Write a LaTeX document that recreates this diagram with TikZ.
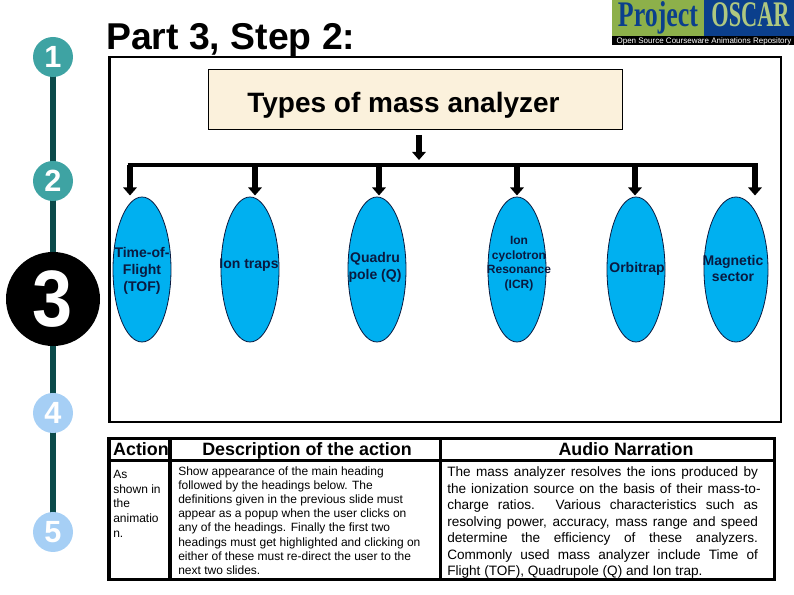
\documentclass[tikz,border=0pt]{standalone}
\usepackage{fontspec}
\setmainfont{Liberation Sans}
\newfontfamily\logofont{Liberation Serif}
\usetikzlibrary{shapes.geometric,arrows.meta}
\definecolor{stem}{HTML}{0B4A4A}
\definecolor{teal}{HTML}{3EA3A3}
\definecolor{pale}{HTML}{A6CFF5}
\definecolor{oval}{HTML}{00B0F0}
\definecolor{ovaltext}{HTML}{0A1A40}
\definecolor{beige}{HTML}{FBF1DC}
\definecolor{logogreen}{HTML}{8DB04A}
\definecolor{logoblue}{HTML}{0B3F8C}
\newcommand{\setpx}[2]{\fontsize{#1}{#2}\selectfont}
\tikzset{
  stepnum/.style={circle,minimum size=40*0.75pt,inner sep=0pt,text=white,font=\bfseries\setpx{23}{25}},
  stemline/.style={stem,line width=4.5pt},
  oval/.style={ellipse,draw=ovaltext,fill=oval,line width=0.6pt,inner sep=0pt,minimum height=145*0.75pt},
  ovaltxt/.style={align=center,text=ovaltext,font=\bfseries\setpx{10.5}{12.6},inner sep=0pt},
  fat/.style={line width=5pt,-{Triangle[length=6pt,width=10pt]}},
  rule/.style={line width=2.6pt},
  head/.style={font=\bfseries\setpx{13.4}{15},inner sep=0pt,anchor=base},
}
\begin{document}
\begin{tikzpicture}[x=0.75pt,y=-0.75pt]
\useasboundingbox (0,0) rectangle (794,595);
% logo
\fill[logogreen] (612,0) rectangle (704,36);
\fill[logoblue] (704,0) rectangle (794,36);
\fill[black] (612,36) rectangle (794,45.5);
\node[anchor=base,inner sep=0pt,text=logoblue,font=\logofont\bfseries\setpx{27}{27}] (lp) at (658,27) {\scalebox{.72}[1]{Project}};
\node[anchor=base,inner sep=0pt,text=logogreen!70!white,font=\logofont\bfseries\setpx{27}{27}] (lo) at (750.5,27) {\scalebox{.62}[1]{OSCAR}};
\node[inner sep=0pt,text=white,font=\setpx{6}{6}] (ls) at (704,41) {Open Source Courseware Animations Repository};
% step rail
\coordinate (railtop) at (53,57);
\coordinate (railbot) at (53,532);
\draw[stemline] (railtop) -- (railbot);
\node[stepnum,fill=teal] (s1) at (53,57) {1};
\node[stepnum,fill=teal] (s2) at (53,181) {2};
\node[circle,fill=black,minimum size=94*0.75pt,inner sep=0pt,text=white,font=\bfseries\setpx{60}{62}] (s3) at (53,299) {\scalebox{.9}[1]{3}};
\node[stepnum,fill=pale] (s4) at (53,413) {4};
\node[stepnum,fill=pale] (s5) at (53,532) {5};
% title
\node[anchor=base west,inner sep=0pt,font=\bfseries\setpx{28}{30}] (title) at (106,50) {Part 3, Step 2:};
% frame
\draw[line width=1.6pt,fill=white] (109.5,57) rectangle (781,422);
\node[draw,line width=0.6pt,fill=beige,minimum width=414*0.75pt,minimum height=60*0.75pt,inner sep=0pt] (box) at (415,99.5) {};
\node[anchor=base,inner sep=0pt,font=\bfseries\setpx{21}{24}] (boxt) at (403.5,112.5) {Types of mass analyzer};
% bus
\coordinate (bl) at (130,165);
\coordinate (br) at (755,165);
\draw[line width=2.4pt] ([xshift=-1.8pt]bl) -- ([xshift=2.3pt]br);
\coordinate (bt) at (419,135);
\coordinate (bb) at (419,160);
\draw[fat] (bt) -- (bb);
\foreach \n/\x/\cx/\rx in {a/130/142/58,b/255/250/58,c/379/377/58,d/517/517/58,e/635/636/58,f/755/736/64}{
  \coordinate (t\n) at (\x,165);
  \coordinate (h\n) at (\x,195.5);
  \draw[fat] (t\n) -- (h\n);
  \node[oval,minimum width=\rx*0.75pt] (o\n) at (\cx,269.5) {};
}
\node[ovaltxt] (la) at (142,271) {Time-of-\\Flight\\(TOF)};
\node[ovaltxt] (lb) at (249,265.5) {Ion traps};
\node[ovaltxt] (lc) at (375,267.5) {Quadru\\pole (Q)};
\node[ovaltxt,font=\bfseries\setpx{9}{11}] (ld) at (519,263.5) {Ion\\cyclotron\\Resonance\\(ICR)};
\node[ovaltxt] (le) at (637,269) {Orbitrap};
\node[ovaltxt] (lf) at (733,268.5) {Magnetic\\sector};
% table
\draw[rule] (109,438.5) rectangle (774.5,579.5);
\draw[rule] (109,460.5) -- (774.5,460.5);
\draw[rule] (170,438.5) -- (170,579.5);
\draw[rule] (440.5,438.5) -- (440.5,579.5);
\node[head] (h1) at (141,455.5) {Action};
\node[head] (h2) at (307,455.5) {Description of the action};
\node[head] (h3) at (626,455.5) {Audio Narration};
\node[anchor=north west,inner sep=0pt,align=left,font=\setpx{9}{11}] (t1) at (113,470) {As\\shown in\\the\\animatio\\n.};
\node[anchor=north west,inner sep=0pt,align=left,font=\setpx{9}{10.6}] (t2) at (178,466.5) {Show appearance of the main heading\\followed by the headings below. The\\definitions given in the previous slide must\\appear as a popup when the user clicks on\\any of the headings. Finally the first two\\headings must get highlighted and clicking on\\either of these must re-direct the user to the\\next two slides.};
\node[anchor=north west,inner sep=0pt,align=left,font=\setpx{10.2}{12.4}] (t3) at (447,466.5) {%
\hbox to 233pt{The mass analyzer resolves the ions produced by}\\
\hbox to 235pt{the ionization source on the basis of their mass-to-}\\
\hbox to 233pt{charge ratios. Various characteristics such as}\\
\hbox to 233pt{resolving power, accuracy, mass range and speed}\\
\hbox to 233pt{determine the efficiency of these analyzers.}\\
\hbox to 233pt{Commonly used mass analyzer include Time of}\\
Flight (TOF), Quadrupole (Q) and Ion trap.};
\end{tikzpicture}
\end{document}
